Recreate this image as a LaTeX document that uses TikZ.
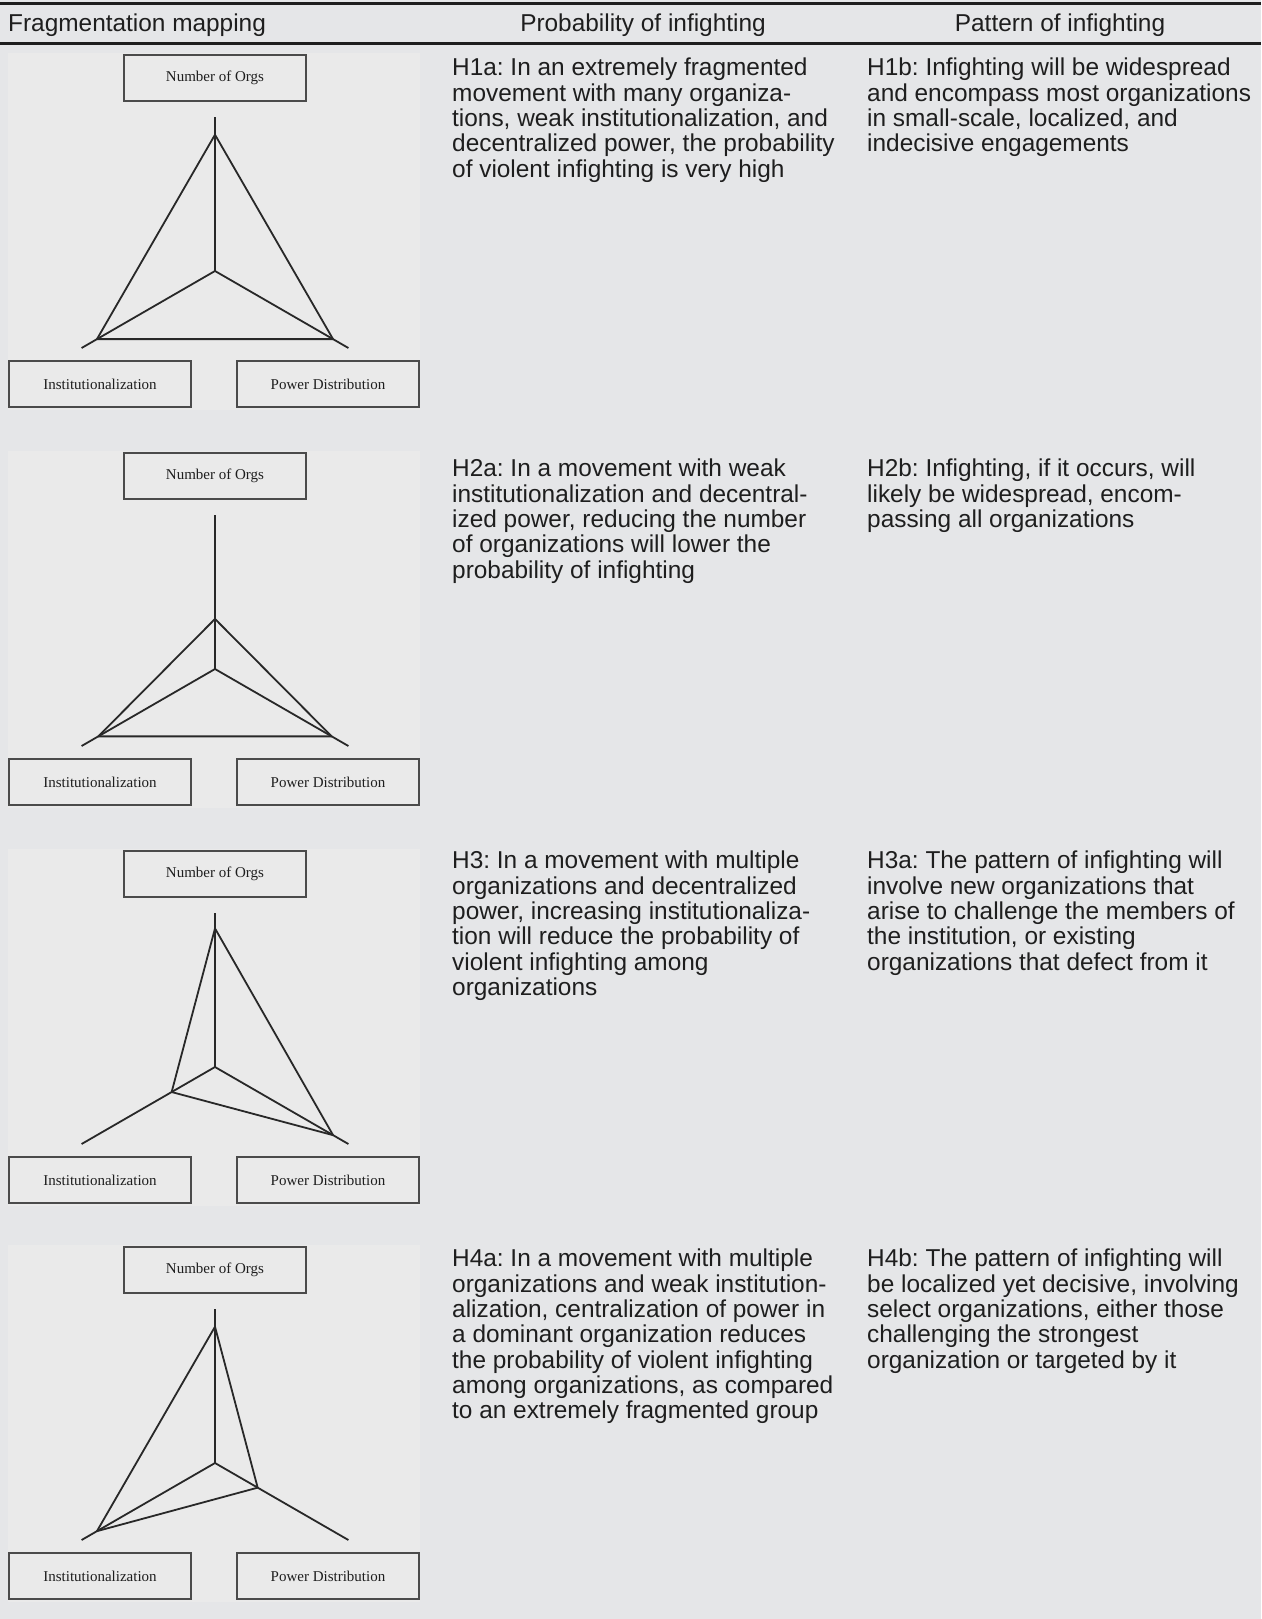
\documentclass[tikz,border=0pt]{standalone}
\usepackage{fontspec}
\setmainfont{Liberation Sans}
\newfontfamily\boxfont{Liberation Serif}
\definecolor{pagebg}{RGB}{229,230,232}
\definecolor{panelbg}{RGB}{234,234,234}
\definecolor{ink}{RGB}{30,30,30}
\definecolor{lineink}{RGB}{40,40,40}
\definecolor{boxink}{RGB}{75,75,75}
\tikzset{
  orgbox/.style={draw=boxink, line width=1.6pt, minimum width=182pt, minimum height=46pt,
    inner sep=0pt, font=\boxfont\fontsize{15}{17}\selectfont, text=ink},
  axisline/.style={draw=lineink, line width=1.8pt, line join=round},
  rulestyle/.style={draw=ink, line width=3pt},
  headtext/.style={font=\fontsize{24.4}{25.3}\selectfont, text=ink, inner sep=0pt},
  celltext/.style={font=\frenchspacing\fontsize{24.4}{25.3}\selectfont, text=ink, inner sep=0pt,
    align=left, anchor=north west},
  pics/fragpanel/.style n args={3}{code={
    \fill[panelbg] (-207,-218) rectangle (205,139);
    \node[orgbox] (-noo) at (0,-193) {Number of Orgs};
    \node[orgbox] (-inst) at (-115,113) {Institutionalization};
    \node[orgbox] (-pow) at (113,113) {Power Distribution};
    \coordinate (-c) at (0,0);
    \coordinate (-at) at (0,-154);
    \coordinate (-al) at (-133.4,77);
    \coordinate (-ar) at (133.4,77);
    \coordinate (-vt) at (0,{-154*#1});
    \coordinate (-vl) at ({-133.4*#2},{77*#2});
    \coordinate (-vr) at ({133.4*#3},{77*#3});
    \draw[axisline] (-c) -- (-at);
    \draw[axisline] (-c) -- (-al);
    \draw[axisline] (-c) -- (-ar);
    \draw[axisline] (-vt) -- (-vl) -- (-vr) -- cycle;
  }}
}
\begin{document}
\begin{tikzpicture}[x=1pt,y=-1pt]
\useasboundingbox (0,0) rectangle (1261,1619);
\fill[pagebg] (0,0) rectangle (1261,1619);
% rules
\coordinate (r1a) at (0,3.5);
\coordinate (r1b) at (1261,3.5);
\coordinate (r2a) at (0,43.5);
\coordinate (r2b) at (1261,43.5);
\draw[rulestyle] (r1a) -- (r1b);
\draw[rulestyle] (r2a) -- (r2b);
% headers
\node[headtext, anchor=base west] (h1) at (8,32) {Fragmentation mapping};
\node[headtext, anchor=base] (h2) at (643,32) {Probability of infighting};
\node[headtext, anchor=base] (h3) at (1060,32) {Pattern of infighting};
% panels
\pic (p1) at (215,271) {fragpanel={0.885}{0.885}{0.885}};
\pic (p2) at (215,669) {fragpanel={0.325}{0.875}{0.875}};
\pic (p3) at (215,1067) {fragpanel={0.9}{0.325}{0.885}};
\pic (p4) at (215,1463) {fragpanel={0.885}{0.885}{0.32}};
% texts
\node[celltext] (t1a) at (452,58) {H1a: In an extremely fragmented\\movement with many organiza-\\tions, weak institutionalization, and\\decentralized power, the probability\\of violent infighting is very high};
\node[celltext] (t1b) at (867,58) {H1b: Infighting will be widespread\\and encompass most organizations\\in small-scale, localized, and\\indecisive engagements};
\node[celltext] (t2a) at (452,459) {H2a: In a movement with weak\\institutionalization and decentral-\\ized power, reducing the number\\of organizations will lower the\\probability of infighting};
\node[celltext] (t2b) at (867,459) {H2b: Infighting, if it occurs, will\\likely be widespread, encom-\\passing all organizations};
\node[celltext] (t3a) at (452,851) {H3: In a movement with multiple\\organizations and decentralized\\power, increasing institutionaliza-\\tion will reduce the probability of\\violent infighting among\\organizations};
\node[celltext] (t3b) at (867,851) {H3a: The pattern of infighting will\\involve new organizations that\\arise to challenge the members of\\the institution, or existing\\organizations that defect from it};
\node[celltext] (t4a) at (452,1249) {H4a: In a movement with multiple\\organizations and weak institution-\\alization, centralization of power in\\a dominant organization reduces\\the probability of violent infighting\\among organizations, as compared\\to an extremely fragmented group};
\node[celltext] (t4b) at (867,1249) {H4b: The pattern of infighting will\\be localized yet decisive, involving\\select organizations, either those\\challenging the strongest\\organization or targeted by it};
\end{tikzpicture}
\end{document}
